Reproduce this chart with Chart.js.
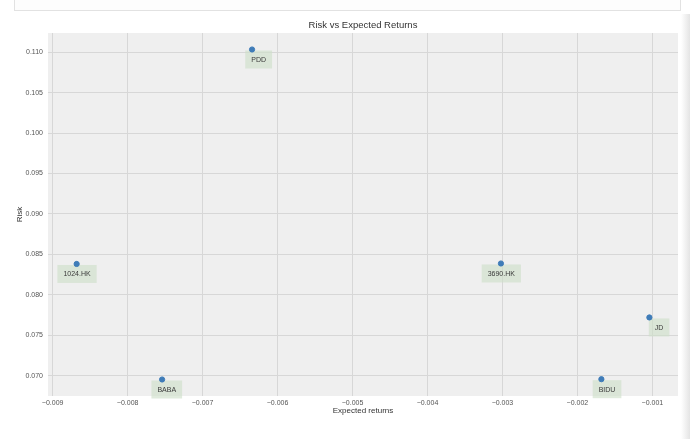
<!DOCTYPE html>
<html>
<head>
<meta charset="utf-8">
<script src="https://cdn.jsdelivr.net/npm/chart.js@4/dist/chart.umd.min.js"></script>
<style>
  html, body { margin: 0; padding: 0; background: #ffffff; }
  #wrap { position: relative; width: 690px; height: 439px; overflow: hidden; }
  #topframe { position: absolute; left: 14px; top: -2px; width: 665px; height: 12px; border: 1px solid #e2e2e2; border-top: none; background: #fdfdfd; }
  #shade { position: absolute; right: 0; top: 14px; width: 9px; height: 425px; background: linear-gradient(to right, rgba(235,235,235,0), rgba(225,225,225,0.9)); }
  canvas { position: absolute; left: 0; top: 0; }
</style>
</head>
<body>
<div id="wrap">
  <div id="topframe"></div>
  <div id="shade"></div>
  <canvas id="c" width="690" height="439"></canvas>
</div>
<script>
const tickers = ['PDD', '1024.HK', 'BABA', '3690.HK', 'JD', 'BIDU'];
const expectedReturns = [-0.00634, -0.00868, -0.00754, -0.00302, -0.00104, -0.00168];
const risk = [0.11033, 0.08382, 0.06954, 0.08388, 0.07721, 0.06958];
const xTicks = [-0.009, -0.008, -0.007, -0.006, -0.005, -0.004, -0.003, -0.002, -0.001];
const yTicks = [0.070, 0.075, 0.080, 0.085, 0.090, 0.095, 0.100, 0.105, 0.110];

const points = tickers.map((t, i) => ({ x: expectedReturns[i], y: risk[i], label: t }));

function pad(vals) {
  const mn = Math.min(...vals), mx = Math.max(...vals);
  const m = (mx - mn) * 0.05;
  return [mn - m, mx + m];
}
const [xMin, xMax] = pad(expectedReturns);
const [yMin, yMax] = pad(risk);

const bgPlugin = {
  id: 'bg',
  beforeDraw(chart) {
    const { ctx, chartArea: a } = chart;
    ctx.save();
    ctx.fillStyle = '#efefef';
    ctx.fillRect(a.left, a.top, a.right - a.left, a.bottom - a.top);
    ctx.restore();
  }
};

const labelPlugin = {
  id: 'labels',
  beforeDatasetsDraw(chart) {
    const ctx = chart.ctx;
    const xs = chart.scales.x, ys = chart.scales.y;
    ctx.save();
    ctx.font = '7px "Liberation Sans", Arial, sans-serif';
    ctx.textBaseline = 'middle';
    ctx.textAlign = 'center';
    points.forEach(p => {
      const px = xs.getPixelForValue(p.x);
      const py = ys.getPixelForValue(p.y);
      const tw = ctx.measureText(p.label).width;
      const w = tw + 12, h = 18;
      const right = px + 20;
      const top = py + 1;
      ctx.fillStyle = 'rgba(205,222,200,0.62)';
      ctx.fillRect(right - w, top, w, h);
      ctx.fillStyle = '#3a3a3a';
      ctx.fillText(p.label, right - w / 2, top + h / 2 + 0.5);
    });
    ctx.restore();
  }
};

const fmt = v => (Math.round(v * 1000) / 1000).toFixed(3).replace('-', '\u2212');

new Chart(document.getElementById('c'), {
  type: 'scatter',
  data: {
    datasets: [{
      data: points,
      backgroundColor: '#3f7cb8',
      borderColor: '#3f7cb8',
      pointRadius: 2.6,
      pointHoverRadius: 2.6
    }]
  },
  options: {
    responsive: false,
    animation: false,
    events: [],
    layout: { padding: { left: 0, right: 12, top: 0, bottom: 0 } },
    plugins: {
      legend: { display: false },
      tooltip: { enabled: false },
      title: {
        display: true,
        fullSize: false,
        text: 'Risk vs Expected Returns',
        color: '#333333',
        font: { family: '"Liberation Sans", Arial, sans-serif', size: 9.5, weight: 'normal' },
        padding: { top: 19.5, bottom: 2.1 }
      }
    },
    scales: {
      x: {
        type: 'linear',
        min: xMin, max: xMax,
        afterFit: s => { s.height = 43; },
        afterBuildTicks: s => { s.ticks = xTicks.map(v => ({ value: v })); },
        border: { display: false },
        grid: { color: '#d7d7d7', lineWidth: 1, drawTicks: false },
        ticks: {
          color: '#555555', padding: 3, maxRotation: 0, autoSkip: false,
          font: { family: '"Liberation Sans", Arial, sans-serif', size: 7 },
          callback: v => fmt(v)
        },
        title: {
          display: true, text: 'Expected returns', color: '#333333',
          font: { family: '"Liberation Sans", Arial, sans-serif', size: 8 },
          padding: { top: 0, bottom: 23 }
        }
      },
      y: {
        type: 'linear',
        min: yMin, max: yMax,
        afterFit: s => { s.width = 48; },
        afterBuildTicks: s => { s.ticks = yTicks.map(v => ({ value: v })); },
        border: { display: false },
        grid: { color: '#d7d7d7', lineWidth: 1, drawTicks: false },
        ticks: {
          color: '#555555', padding: 5, autoSkip: false,
          font: { family: '"Liberation Sans", Arial, sans-serif', size: 7 },
          callback: v => fmt(v)
        },
        title: {
          display: true, text: 'Risk', color: '#333333',
          font: { family: '"Liberation Sans", Arial, sans-serif', size: 8 },
          padding: { top: 15, bottom: 0 }
        }
      }
    }
  },
  plugins: [bgPlugin, labelPlugin]
});
</script>
</body>
</html>
